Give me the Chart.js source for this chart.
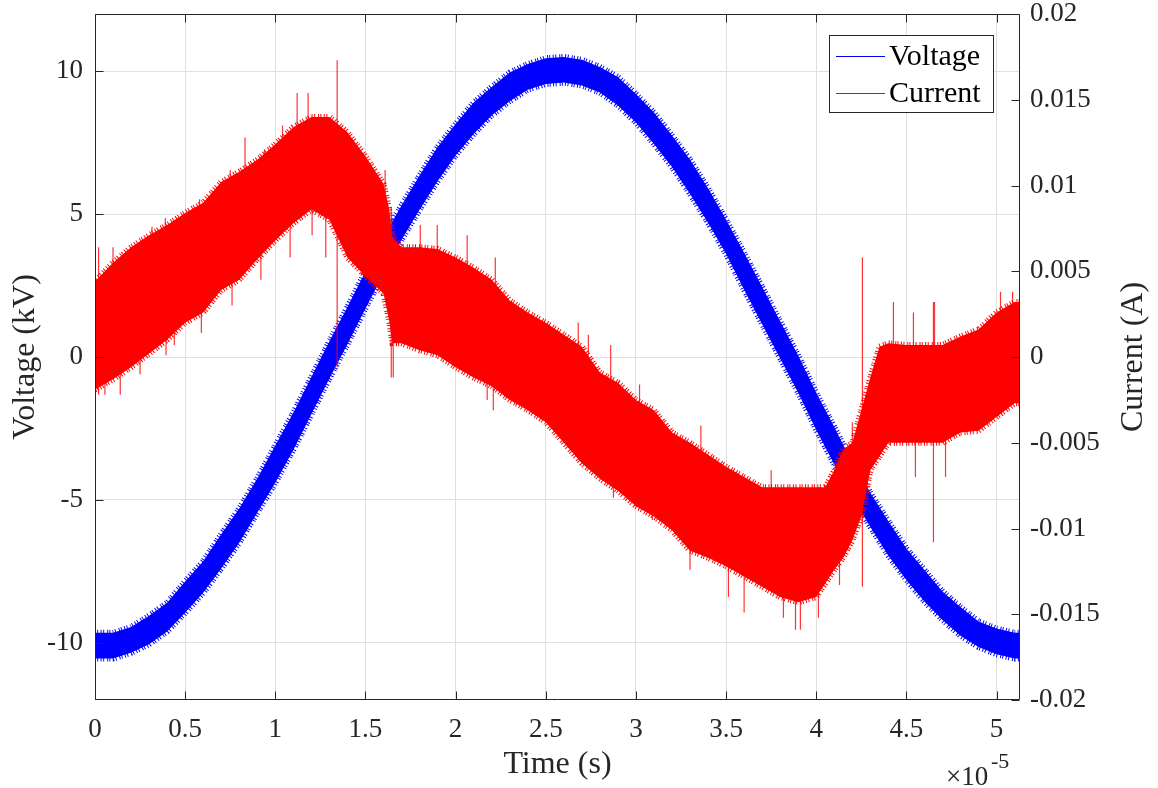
<!DOCTYPE html>
<html>
<head>
<meta charset="utf-8">
<script src="https://cdn.jsdelivr.net/npm/chart.js@4.4.1/dist/chart.umd.min.js"></script>
<style>
  html, body { margin: 0; padding: 0; background: #ffffff; }
  #wrap { width: 1158px; height: 788px; }
</style>
</head>
<body>
<div id="wrap"><canvas id="chart" width="1158" height="788"></canvas></div>
<script>
// Time is stored in units of 1e-5 s (the axis carries the x10^-5 multiplier).
const timeTicks = [0, 0.5, 1, 1.5, 2, 2.5, 3, 3.5, 4, 4.5, 5];
const voltageTicks = [-10, -5, 0, 5, 10];
const currentTicks = [-0.02, -0.015, -0.01, -0.005, 0, 0.005, 0.01, 0.015, 0.02];
const seriesNames = ['Voltage', 'Current'];

// Voltage envelope (kV): upper and lower edge of the noisy trace
const voltageTime = [0, 0.1, 0.2, 0.3, 0.4, 0.5, 0.6, 0.7, 0.8, 0.9, 1.0, 1.1, 1.2, 1.3, 1.4, 1.5, 1.6, 1.7, 1.8, 1.9,
  2.0, 2.1, 2.2, 2.3, 2.4, 2.5, 2.6, 2.7, 2.8, 2.9, 3.0, 3.1, 3.2, 3.3, 3.4, 3.5, 3.6, 3.7, 3.8, 3.9,
  4.0, 4.1, 4.2, 4.3, 4.4, 4.5, 4.6, 4.7, 4.8, 4.9, 5.0, 5.1, 5.13];
const voltageMax = [-9.65, -9.65, -9.45, -9.05, -8.6, -7.85, -7.15, -6.2, -5.3, -4.25, -3.1, -1.95, -0.7, 0.55, 1.75, 3.0, 4.2, 5.3, 6.35, 7.35,
  8.15, 8.9, 9.45, 9.95, 10.25, 10.45, 10.5, 10.4, 10.15, 9.8, 9.2, 8.55, 7.75, 6.9, 5.9, 4.8, 3.65, 2.45, 1.25, 0.05,
  -1.25, -2.45, -3.7, -4.75, -5.75, -6.7, -7.45, -8.2, -8.75, -9.25, -9.5, -9.65, -9.65];
const voltageMin = [-10.55, -10.55, -10.35, -10.05, -9.6, -8.95, -8.25, -7.4, -6.5, -5.45, -4.4, -3.25, -2.0, -0.75, 0.45, 1.7, 2.9, 4.1, 5.15, 6.15,
  7.05, 7.8, 8.45, 8.95, 9.35, 9.55, 9.6, 9.5, 9.25, 8.8, 8.2, 7.45, 6.65, 5.7, 4.7, 3.6, 2.35, 1.15, -0.05, -1.25,
  -2.55, -3.75, -4.9, -5.95, -6.95, -7.8, -8.55, -9.2, -9.75, -10.15, -10.4, -10.55, -10.55];

// Current envelope (A)
const currentTime = [0, 0.1, 0.2, 0.3, 0.4, 0.5, 0.6, 0.7, 0.8, 0.9, 1.0, 1.1, 1.2, 1.3, 1.4, 1.5, 1.6, 1.63, 1.65, 1.7,
  1.8, 1.9, 2.0, 2.1, 2.2, 2.3, 2.4, 2.5, 2.6, 2.7, 2.8, 2.9, 3.0, 3.1, 3.2, 3.3, 3.4, 3.5, 3.6, 3.7,
  3.8, 3.9, 4.0, 4.05, 4.1, 4.15, 4.2, 4.25, 4.3, 4.35, 4.4, 4.5, 4.6, 4.7, 4.8, 4.9, 5.0, 5.1, 5.13];
const currentMax = [0.0044, 0.0055, 0.0064, 0.0071, 0.0077, 0.0084, 0.0090, 0.0102, 0.0108, 0.0115, 0.0124, 0.0134, 0.0140, 0.0140, 0.0131, 0.0117, 0.0101, 0.0087, 0.0070, 0.0064,
  0.0064, 0.0063, 0.0058, 0.0052, 0.0045, 0.0033, 0.0026, 0.0020, 0.0013, 0.0006, -0.0009, -0.0015, -0.0025, -0.0031, -0.0044, -0.0050, -0.0057, -0.0064, -0.0070, -0.0076,
  -0.0076, -0.0076, -0.0076, -0.0076, -0.0066, -0.0054, -0.0050, -0.0031, -0.0012, 0.0006, 0.0008, 0.0007, 0.0007, 0.0007, 0.0012, 0.0016, 0.0026, 0.0032, 0.0032];
const currentMin = [-0.0019, -0.0013, -0.0006, 0.0002, 0.0010, 0.0020, 0.0026, 0.0039, 0.0045, 0.0057, 0.0068, 0.0078, 0.0086, 0.0080, 0.0058, 0.0047, 0.0037, 0.0022, 0.0008, 0.0008,
  0.0004, 0.0001, -0.0006, -0.0012, -0.0017, -0.0025, -0.0031, -0.0038, -0.0050, -0.0062, -0.0071, -0.0078, -0.0087, -0.0093, -0.0101, -0.0113, -0.0117, -0.0122, -0.0128, -0.0134,
  -0.0140, -0.0143, -0.0140, -0.0132, -0.0124, -0.0117, -0.0107, -0.0093, -0.0066, -0.0058, -0.0050, -0.0050, -0.0050, -0.0050, -0.0044, -0.0043, -0.0035, -0.0027, -0.0027];

// Isolated current spikes (A): time, lower end, upper end
const spikeTime   = [0.02, 0.055, 0.10, 0.14, 0.25, 0.316, 0.39, 0.394, 0.44, 0.58, 0.59, 0.75, 0.76, 0.832, 0.92, 0.94, 1.04, 1.082, 1.121, 1.182,
  1.204, 1.28, 1.343, 1.609, 1.643, 1.654, 1.804, 1.898, 2.064, 2.175, 2.209, 2.220, 2.680, 2.736, 2.860, 2.875, 3.02, 3.091, 3.30, 3.36,
  3.513, 3.60, 3.75, 3.818, 3.885, 3.912, 4.012, 4.129, 4.200, 4.256, 4.428, 4.539, 4.550, 4.650, 4.656, 4.717, 5.022, 5.089];
const spikeBottom = [-0.0022, -0.0022, 0.0040, -0.0022, -0.0010, 0.0050, 0.0050, 0.0001, 0.0007, 0.0060, 0.0014, 0.0075, 0.0030, 0.0090, 0.0045, 0.0080, 0.0090, 0.0058, 0.0090, 0.0100,
  0.0071, 0.0058, -0.0006, 0.0070, -0.0012, -0.0012, 0.0040, 0.0040, 0.0030, -0.0025, -0.0031, 0.0020, -0.0010, -0.0020, -0.0030, -0.0082, -0.0050, -0.0095, -0.0124, -0.0080,
  -0.0140, -0.0149, -0.0100, -0.0152, -0.0159, -0.0159, -0.0152, -0.0133, -0.0070, -0.0134, -0.0020, -0.0020, -0.0070, -0.0108, -0.0020, -0.0070, 0.0000, 0.0000];
const spikeTop    = [0.0064, 0.0010, 0.0064, 0.0020, 0.0030, 0.0076, 0.0081, 0.0040, 0.0040, 0.0092, 0.0050, 0.0109, 0.0060, 0.0128, 0.0080, 0.0121, 0.0135, 0.0100, 0.0154, 0.0154,
  0.0110, 0.0090, 0.0173, 0.0109, 0.0087, 0.0030, 0.0077, 0.0077, 0.0071, 0.0010, 0.0010, 0.0058, 0.0020, 0.0013, 0.0007, -0.0050, -0.0016, -0.0060, -0.0090, -0.0040,
  -0.0100, -0.0110, -0.0066, -0.0120, -0.0120, -0.0120, -0.0120, -0.0100, -0.0038, 0.0058, 0.0032, 0.0026, -0.0030, 0.0032, 0.0032, -0.0030, 0.0038, 0.0038];

const BLUE = '#0000ff';
const RED = '#ff0000';
const AXIS = '#262626';
const FONT = '"Liberation Serif", "Times New Roman", serif';

const pts = (xs, ys) => xs.map((x, i) => ({ x: x, y: ys[i] }));
const spikePts = spikeTime.flatMap((t, i) => [
  { x: t, y: spikeBottom[i] }, { x: t, y: spikeTop[i] }, { x: t, y: null }
]);

// Wide dashed edge stroke gives the band its ragged, noisy fringe
const bandEdge = (color) => ({
  borderColor: color,
  borderWidth: 6,
  borderDash: [1, 1.2, 1, 2.4, 1, 1.6, 1, 3],
  pointRadius: 0,
  tension: 0,
  clip: 0
});

// Frame, inner tick marks, axis titles, exponent and legend
const decorations = {
  id: 'decorations',
  afterDraw(chart) {
    const ctx = chart.ctx;
    const a = chart.chartArea;
    const sx = chart.scales.x, sy = chart.scales.y, sy1 = chart.scales.y1;
    const TL = 8;
    ctx.save();
    ctx.strokeStyle = AXIS;
    ctx.lineWidth = 1;
    const L = Math.round(a.left) + 0.5, R = Math.round(a.right) - 0.5;
    const T = Math.round(a.top) + 0.5, B = Math.round(a.bottom) - 0.5;
    ctx.beginPath();
    ctx.rect(L, T, R - L, B - T);
    timeTicks.forEach(v => {
      const px = Math.round(sx.getPixelForValue(v)) + 0.5;
      ctx.moveTo(px, B); ctx.lineTo(px, B - TL);
      ctx.moveTo(px, T); ctx.lineTo(px, T + TL);
    });
    voltageTicks.forEach(v => {
      const py = Math.round(sy.getPixelForValue(v)) + 0.5;
      ctx.moveTo(L, py); ctx.lineTo(L + TL, py);
    });
    currentTicks.forEach(v => {
      const py = Math.round(sy1.getPixelForValue(v)) + 0.5;
      ctx.moveTo(R, py); ctx.lineTo(R - TL, py);
    });
    ctx.stroke();

    // axis titles
    ctx.fillStyle = AXIS;
    ctx.font = '32px ' + FONT;
    ctx.textAlign = 'center';
    ctx.textBaseline = 'middle';
    ctx.fillText('Time (s)', (a.left + a.right) / 2, 765);
    ctx.save();
    ctx.translate(26, (a.top + a.bottom) / 2);
    ctx.rotate(-Math.PI / 2);
    ctx.fillText('Voltage (kV)', 0, 0);
    ctx.restore();
    ctx.save();
    ctx.translate(1134, (a.top + a.bottom) / 2);
    ctx.rotate(-Math.PI / 2);
    ctx.fillText('Current (A)', 0, 0);
    ctx.restore();

    // x10^-5 multiplier
    ctx.textAlign = 'left';
    ctx.textBaseline = 'alphabetic';
    ctx.font = '27px ' + FONT;
    ctx.fillText('\u00d710', 946, 785);
    ctx.font = '22px ' + FONT;
    ctx.fillText('-5', 991, 768);

    // legend
    const lx = 829.5, ly = 35.5, lw = 164, lh = 77;
    ctx.fillStyle = '#ffffff';
    ctx.fillRect(lx, ly, lw, lh);
    ctx.strokeStyle = AXIS;
    ctx.strokeRect(lx, ly, lw, lh);
    const legendColors = [BLUE, RED];
    ctx.font = '30px ' + FONT;
    ctx.textBaseline = 'middle';
    seriesNames.forEach((name, i) => {
      const yy = 56.5 + i * 37;
      ctx.strokeStyle = legendColors[i];
      ctx.beginPath();
      ctx.moveTo(836, yy); ctx.lineTo(885, yy);
      ctx.stroke();
      ctx.fillStyle = '#000000';
      ctx.fillText(name, 889, yy + 1);
    });
    ctx.restore();
  }
};

const tickFont = { family: FONT, size: 27 };
const noPad = s => { s.paddingTop = 0; s.paddingBottom = 0; s.paddingLeft = 0; s.paddingRight = 0; };

new Chart(document.getElementById('chart'), {
  type: 'line',
  data: {
    datasets: [
      Object.assign({ label: seriesNames[1], data: pts(currentTime, currentMax), yAxisID: 'y1',
        fill: '+1', backgroundColor: RED, order: 0 }, bandEdge(RED)),
      Object.assign({ label: seriesNames[1] + ' min', data: pts(currentTime, currentMin), yAxisID: 'y1',
        fill: false, order: 0 }, bandEdge(RED)),
      { label: seriesNames[1] + ' spikes', data: spikePts, yAxisID: 'y1', borderColor: 'rgba(255,0,0,0.8)',
        borderWidth: 1.2, pointRadius: 0, spanGaps: false, fill: false, order: 0, clip: 0 },
      Object.assign({ label: seriesNames[0], data: pts(voltageTime, voltageMax), yAxisID: 'y',
        fill: '+1', backgroundColor: BLUE, order: 1 }, bandEdge(BLUE)),
      Object.assign({ label: seriesNames[0] + ' min', data: pts(voltageTime, voltageMin), yAxisID: 'y',
        fill: false, order: 1 }, bandEdge(BLUE))
    ]
  },
  options: {
    responsive: false,
    animation: false,
    devicePixelRatio: 1,
    layout: { padding: { top: 14, left: 0, right: 0, bottom: 0 } },
    plugins: { legend: { display: false }, tooltip: { enabled: false } },
    elements: { line: { borderJoinStyle: 'miter' } },
    scales: {
      x: {
        type: 'linear', min: 0, max: 5.13, offset: false,
        afterBuildTicks: s => { s.ticks = timeTicks.map(v => ({ value: v })); },
        afterFit: s => { s.height = 88; noPad(s); },
        ticks: { font: tickFont, color: AXIS, padding: 14, maxRotation: 0, autoSkip: false,
          callback: v => String(v) },
        grid: { color: '#dfdfdf', drawTicks: false },
        border: { display: false }
      },
      y: {
        type: 'linear', position: 'left', min: -12, max: 12,
        afterBuildTicks: s => { s.ticks = voltageTicks.map(v => ({ value: v })); },
        afterFit: s => { s.width = 95; noPad(s); },
        ticks: { font: tickFont, color: AXIS, padding: 12, autoSkip: false, callback: v => String(v) },
        grid: { color: '#dfdfdf', drawTicks: false },
        border: { display: false }
      },
      y1: {
        type: 'linear', position: 'right', min: -0.02, max: 0.02,
        afterBuildTicks: s => { s.ticks = currentTicks.map(v => ({ value: v })); },
        afterFit: s => { s.width = 138; noPad(s); },
        ticks: { font: tickFont, color: AXIS, padding: 10, autoSkip: false, callback: v => String(v) },
        grid: { display: false, drawTicks: false },
        border: { display: false }
      }
    }
  },
  plugins: [decorations]
});
</script>
</body>
</html>
